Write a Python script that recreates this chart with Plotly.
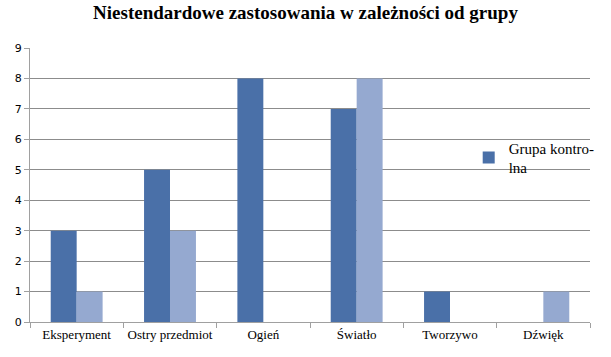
import plotly.graph_objects as go

categories = ["Eksperyment", "Ostry przedmiot", "Ogień", "Światło", "Tworzywo", "Dźwięk"]
grupa_kontrolna = [3, 5, 8, 7, 1, 0]
grupa_druga = [1, 3, 0, 8, 0, 1]
y_ticks = list(range(0, 10))

SERIF = "Liberation Serif, Times New Roman, DejaVu Serif, serif"
SANS = "DejaVu Sans, Verdana, sans-serif"

fig = go.Figure()
fig.add_trace(go.Bar(x=categories, y=grupa_kontrolna, name="Grupa kontro-<br>lna",
                     marker=dict(color="#4A70A8", line=dict(width=0))))
fig.add_trace(go.Bar(x=categories, y=grupa_druga, name="Grupa 2", showlegend=False,
                     marker=dict(color="#95A9D0", line=dict(width=0))))

fig.update_layout(
    width=611, height=357,
    paper_bgcolor="white", plot_bgcolor="white",
    margin=dict(l=30, r=20, t=48, b=35),
    barmode="group", bargap=0.444, bargroupgap=0,
    font=dict(family=SERIF, size=12, color="black"),
    title=dict(text="<b>Niestendardowe zastosowania w zależności od grupy</b>",
               x=0.5, xanchor="center", y=0.985, yanchor="top",
               font=dict(family=SERIF, size=19, color="black")),
    legend=dict(x=0.782, y=0.695, xanchor="left", yanchor="top",
                bgcolor="rgba(0,0,0,0)", font=dict(family=SERIF, size=15),
                itemwidth=30, tracegroupgap=0),
    showlegend=True,
)
fig.update_xaxes(showline=True, linecolor="#A0A0A0", linewidth=1,
                 ticks="outside", tickson="boundaries", ticklen=5, tickcolor="#A0A0A0",
                 showgrid=False, tickangle=0, automargin=False,
                 tickfont=dict(family=SERIF, size=13))
fig.update_yaxes(range=[0, 9], tickvals=y_ticks, showline=True, linecolor="#A0A0A0", linewidth=1,
                 ticks="outside", ticklen=5, tickcolor="#A0A0A0", automargin=False,
                 showgrid=True, gridcolor="#8C8C8C", gridwidth=1, zeroline=False,
                 tickfont=dict(family=SANS, size=11))

fig.write_html("out.html", config={"displayModeBar": False},
               post_script="document.body.style.margin='0';document.body.style.padding='0';")
